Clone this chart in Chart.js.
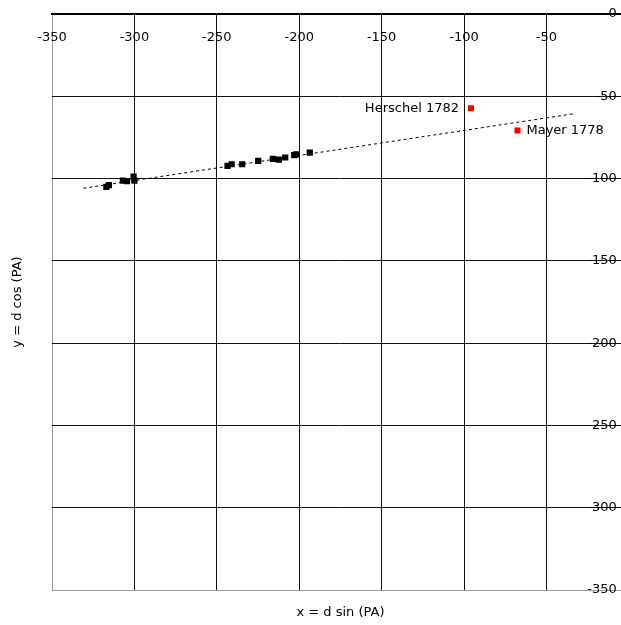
<!DOCTYPE html>
<html>
<head>
<meta charset="utf-8">
<script src="https://cdn.jsdelivr.net/npm/chart.js@4"></script>
<style>
  html, body { margin: 0; padding: 0; background: #fff; overflow: hidden; }
  /* plot runs out to x = 0 just past the window edge, like the original */
  #wrap { position: relative; width: 649px; height: 625px; }
</style>
</head>
<body>
<div id="wrap"><canvas id="chart"></canvas></div>
<script>
// --- DATA ---
// measured positions (x = d sin PA, y = d cos PA)
const obsX = [-317, -315.5, -307, -304.5, -300.5, -300, -243.5, -241, -234.6, -224.9, -216, -212.4, -208.5, -203, -201.8, -193.6];
const obsY = [-105, -104, -101.2, -101.6, -98.8, -101.3, -92.3, -91.3, -91.3, -89.3, -88, -88.5, -87.2, -85.8, -85.3, -84.2];

// historical positions
const histX = [-95.8, -67.6];
const histY = [-57.3, -70.8];
const histLabels = ['Herschel 1782', 'Mayer 1778'];

// linear fit
const trendX = [-331, -34];
const trendY = [-105.9, -60.7];

const xTicks = [-350, -300, -250, -200, -150, -100, -50, 0];
const yTicks = [0, -50, -100, -150, -200, -250, -300, -350];

const FONT = { family: '"DejaVu Sans", sans-serif', size: 13 };

const toPoints = (xs, ys) => xs.map((x, i) => ({ x, y: ys[i] }));

// --- LABELS NEXT TO THE RED POINTS ---
const pointLabelPlugin = {
    id: 'pointLabels',
    afterDatasetsDraw(chart) {
        const meta = chart.getDatasetMeta(1);
        const ctx = chart.ctx;
        ctx.save();
        ctx.font = `${FONT.size}px ${FONT.family}`;
        ctx.fillStyle = '#000';
        ctx.textBaseline = 'middle';
        meta.data.forEach((pt, i) => {
            if (i === 0) {
                ctx.textAlign = 'right';
                ctx.fillText(histLabels[i], pt.x - 12, pt.y);
            } else {
                ctx.textAlign = 'left';
                ctx.fillText(histLabels[i], pt.x + 9, pt.y);
            }
        });
        ctx.restore();
    }
};

const gridColor = (ctx) => (ctx.tick && ctx.tick.value === -350 ? '#9a9a9a' : '#111');

new Chart(document.getElementById('chart'), {
    type: 'scatter',
    data: {
        datasets: [
            {
                data: toPoints(obsX, obsY),
                pointStyle: 'rect',
                pointRadius: 4.4,
                backgroundColor: '#000',
                borderColor: '#000',
                borderWidth: 0
            },
            {
                data: toPoints(histX, histY),
                pointStyle: 'rect',
                pointRadius: 4.3,
                backgroundColor: '#ff0000',
                borderColor: '#ff0000',
                borderWidth: 0
            },
            {
                data: toPoints(trendX, trendY),
                showLine: true,
                borderColor: '#000',
                borderWidth: 1,
                borderDash: [3, 3],
                pointRadius: 0
            }
        ]
    },
    options: {
        responsive: true,
        maintainAspectRatio: false,
        animation: false,
        devicePixelRatio: 1,
        layout: { autoPadding: false, padding: { top: 14, right: 1, left: 0, bottom: 0 } },
        plugins: {
            legend: { display: false },
            tooltip: { enabled: false }
        },
        scales: {
            x: {
                type: 'linear',
                position: { y: 0 },
                min: -350,
                max: 0,
                afterBuildTicks: (s) => { s.ticks = xTicks.map(v => ({ value: v })); },
                ticks: { font: FONT, color: '#000', padding: 16, autoSkip: false, maxRotation: 0 },
                grid: { color: gridColor, lineWidth: 1, drawTicks: false },
                border: { display: true, color: '#000', width: 2 }
            },
            y: {
                type: 'linear',
                position: { x: -7.3 },
                min: -350,
                max: 0,
                afterBuildTicks: (s) => { s.ticks = yTicks.map(v => ({ value: v })); },
                ticks: { font: FONT, color: '#000', padding: 0, autoSkip: false },
                grid: { color: gridColor, lineWidth: 1, drawTicks: false },
                border: { display: false }
            },
            // axis titles only
            xt: {
                type: 'linear',
                axis: 'x',
                position: 'bottom',
                ticks: { display: false },
                grid: { display: false },
                border: { display: false },
                title: { display: true, text: 'x = d sin (PA)', font: FONT, color: '#000', padding: { top: 4, bottom: 5 } },
                afterFit: (s) => { s.height = 35; }
            },
            yt: {
                type: 'linear',
                axis: 'y',
                position: 'left',
                ticks: { display: false },
                grid: { display: false },
                border: { display: false },
                title: { display: true, text: 'y = d cos (PA)', font: FONT, color: '#000', padding: { top: 10, bottom: 4 } },
                afterFit: (s) => { s.width = 52; }
            }
        }
    },
    plugins: [pointLabelPlugin]
});
</script>
</body>
</html>
